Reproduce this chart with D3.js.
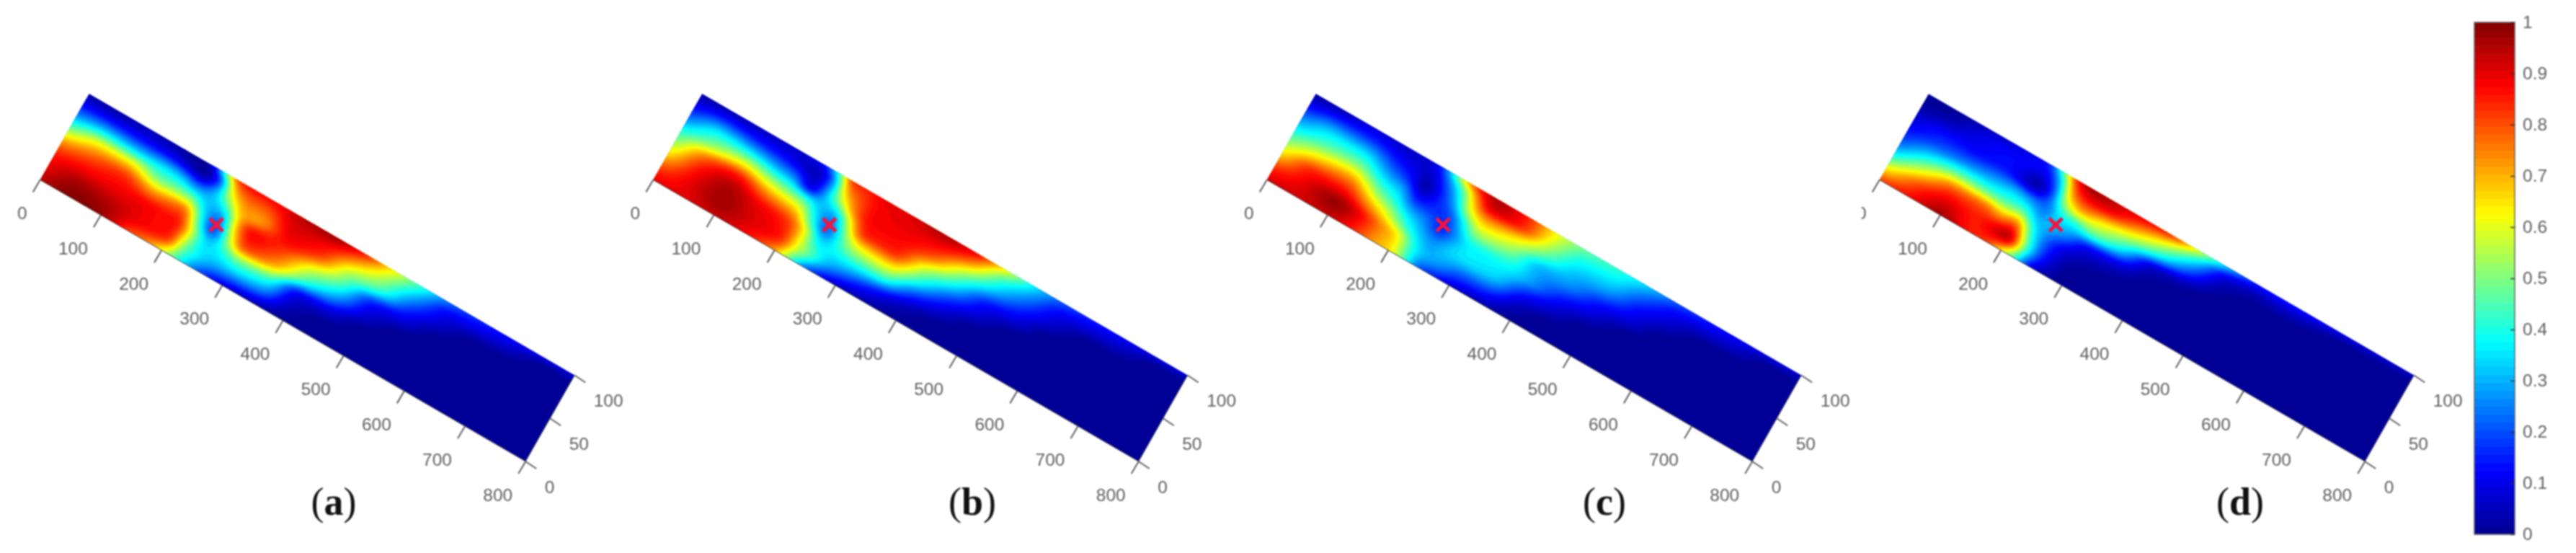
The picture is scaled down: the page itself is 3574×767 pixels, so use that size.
<!DOCTYPE html>
<html><head><meta charset="utf-8">
<script src="https://cdn.jsdelivr.net/npm/d3@7"></script>
<style>html,body{margin:0;background:#fff}svg{display:block;filter:blur(1px)}</style>
</head><body><svg id="c" width="3574" height="767"></svg>
<script>
const xKnots=[0,50,100,150,175,200,225,250,275,300,350,400,450,500,550,600,650,700,750,800];
const yKnots=[0,15,30,45,60,75,90,100];
const xTicks=[0,100,200,300,400,500,600,700,800];
const yTicks=[0,50,100];
const barTicks=[0,.1,.2,.3,.4,.5,.6,.7,.8,.9,1];
const panelNames=["(a)","(b)","(c)","(d)"];
const sensor=[250,50];
const fieldA=[
[.95,.9,.85,.72,.48,.26,.1,.02],
[1,.97,.89,.8,.64,.34,.1,.02],
[.98,.95,.89,.84,.65,.32,.1,.04],
[.8,.89,.89,.75,.5,.33,.08,.02],
[.75,.87,.87,.78,.52,.3,.04,0],
[.6,.85,.87,.8,.52,.22,0,.02],
[.42,.5,.58,.44,.32,.3,.2,.45],
[.25,.36,.32,.16,.26,.5,.72,.85],
[.14,.3,.4,.55,.68,.72,.8,.88],
[.08,.3,.5,.82,.88,.72,.8,.88],
[.03,.25,.45,.72,.82,.89,.92,.94],
[0,.04,.1,.42,.6,.82,.9,.98],
[0,0,.07,.25,.42,.55,.75,.88],
[0,0,0,.07,.14,.42,.55,.65],
[0,0,0,0,.08,.18,.32,.42],
[0,0,0,0,0,.06,.12,.22],
[0,0,0,0,0,0,.09,.16],
[0,0,0,0,0,0,.06,.13],
[0,0,0,0,0,0,0,.1],
[0,0,0,0,0,0,0,.08]];
const fieldB=[
[.9,.8,.65,.5,.37,.2,.08,.02],
[.9,.9,.87,.78,.52,.36,.14,.03],
[.93,.97,.96,.88,.62,.34,.12,.05],
[.88,.91,.89,.75,.52,.27,.1,.06],
[.82,.89,.87,.72,.48,.24,.07,.08],
[.72,.85,.82,.68,.44,.06,.04,.12],
[.45,.6,.62,.42,.32,.3,.25,.4],
[.22,.44,.34,.2,.28,.55,.75,.85],
[.12,.3,.38,.45,.6,.78,.82,.85],
[.05,.25,.42,.62,.85,.88,.88,.9],
[.02,.14,.42,.65,.85,.88,.9,.91],
[0,.04,.18,.4,.58,.8,.9,.96],
[0,0,.07,.18,.36,.54,.78,.9],
[0,0,0,.07,.14,.32,.47,.64],
[0,0,0,0,.08,.17,.28,.36],
[0,0,0,0,0,.06,.12,.2],
[0,0,0,0,0,0,.08,.15],
[0,0,0,0,0,0,.06,.12],
[0,0,0,0,0,0,0,.1],
[0,0,0,0,0,0,0,.08]];
const fieldC=[
[.92,.82,.65,.5,.36,.22,.08,.02],
[.92,.9,.85,.66,.46,.33,.14,.04],
[.93,.98,.87,.72,.5,.33,.15,.08],
[.82,.85,.7,.5,.34,.2,.1,.06],
[.72,.74,.6,.42,.3,.15,.08,.06],
[.66,.66,.45,.3,.13,.02,.07,.1],
[.45,.42,.33,.25,.16,.14,.22,.35],
[.2,.3,.26,.15,.18,.3,.45,.7],
[.14,.28,.33,.28,.37,.6,.76,.88],
[.08,.22,.35,.38,.55,.72,.93,.96],
[.03,.18,.33,.38,.5,.65,.85,.85],
[0,.04,.14,.28,.3,.46,.58,.62],
[0,0,.06,.14,.26,.32,.4,.47],
[0,0,0,.07,.14,.28,.37,.42],
[0,0,0,0,.08,.14,.24,.33],
[0,0,0,0,0,.06,.12,.2],
[0,0,0,0,0,0,.08,.15],
[0,0,0,0,0,0,.06,.12],
[0,0,0,0,0,0,0,.1],
[0,0,0,0,0,0,0,.08]];
const fieldD=[
[.82,.6,.36,.2,.12,.06,.01,0],
[.88,.8,.6,.38,.2,.12,.03,.01],
[.97,.9,.78,.48,.24,.12,.1,.05],
[.85,.85,.78,.46,.28,.14,.12,.08],
[.82,.9,.72,.46,.3,.08,.12,.1],
[.62,.96,.8,.48,.26,.02,.1,.15],
[.38,.52,.42,.3,.22,.2,.3,.5],
[.08,.2,.22,.3,.38,.6,.8,.9],
[.02,.06,.1,.24,.4,.72,.9,.98],
[0,0,.04,.12,.46,.66,.9,.95],
[0,0,.01,.08,.33,.55,.78,.9],
[0,0,0,.01,.05,.38,.63,.85],
[0,0,0,0,.02,.18,.38,.58],
[0,0,0,0,0,.02,.09,.3],
[0,0,0,0,0,0,.04,.15],
[0,0,0,0,0,0,.05,.15],
[0,0,0,0,0,0,.02,.13],
[0,0,0,0,0,0,0,.1],
[0,0,0,0,0,0,0,.08],
[0,0,0,0,0,0,0,.06]];
const fields=[fieldA,fieldB,fieldC,fieldD];

const jet=d3.scaleLinear().domain([0,.125,.375,.625,.875,1])
  .range(["#000090","#0000ff","#00ffff","#ffff00","#ff0000","#800000"]).clamp(true);
const xToH=d3.scaleLinear().domain([0,800]).range([0,673.5]);
const xToV=d3.scaleLinear().domain([0,800]).range([0,390.5]);
const yToH=d3.scaleLinear().domain([0,100]).range([0,68]);
const yToV=d3.scaleLinear().domain([0,100]).range([0,-119.5]);
const origins=[[55.7,249.5],[906.2,249.5],[1757.7,249.5],[2607.7,249.5]];
const labelX=[463,1349,2226,3108];
function pchip(xs,ys){
  const n=xs.length,h=[],d=[],m=new Array(n);
  for(let i=0;i<n-1;i++){h[i]=xs[i+1]-xs[i];d[i]=(ys[i+1]-ys[i])/h[i];}
  m[0]=d[0];m[n-1]=d[n-2];
  for(let i=1;i<n-1;i++){
    if(d[i-1]*d[i]<=0)m[i]=0;
    else{const a=2*h[i]+h[i-1],b=h[i]+2*h[i-1];m[i]=(a+b)/(a/d[i-1]+b/d[i]);}
  }
  return t=>{
    let i=Math.min(n-2,Math.max(0,d3.bisectRight(xs,t)-1));
    const u=(t-xs[i])/h[i],u2=u*u,u3=u2*u;
    return (2*u3-3*u2+1)*ys[i]+(u3-2*u2+u)*h[i]*m[i]+(-2*u3+3*u2)*ys[i+1]+(u3-u2)*h[i]*m[i+1];
  };
}
const NX=401,NY=101;
function resample(field){
  const cols=field.map(c=>pchip(yKnots,c));
  const out=new Float64Array(NX*NY);
  for(let j=0;j<NY;j++){
    const yv=j*100/(NY-1),f=pchip(xKnots,cols.map(c=>c(yv)));
    for(let i=0;i<NX;i++)out[j*NX+i]=Math.max(0,Math.min(1,f(i*800/(NX-1))));
  }
  d3.blur2({data:out,width:NX,height:NY},3,1.5);
  return out;
}
const levels=d3.range(1,64).map(i=>i/64);
const contours=d3.contours().size([NX,NY]).thresholds(levels).smooth(true);
const svg=d3.select("#c");
const defs=svg.append("defs");
const grey="#5f5f5f";
fields.forEach((field,p)=>{
  const [ox,oy]=origins[p];
  const P=(x,y)=>[ox+xToH(x)+yToH(y),oy+xToV(x)+yToV(y)];
  const g=svg.append("g");
  const corners=[[0,0],[800,0],[800,100],[0,100]].map(c=>P(c[0],c[1]));
  defs.append("clipPath").attr("id","clip"+p).append("polygon").attr("points",corners.join(" "));
  const proj=d3.geoTransform({point(cx,cy){
    const q=P(Math.max(0,Math.min(800,(cx-.5)*800/(NX-1))),Math.max(0,Math.min(100,(cy-.5)*100/(NY-1))));
    this.stream.point(q[0],q[1]);
  }});
  const path=d3.geoPath(proj);
  const heat=g.append("g").attr("clip-path",`url(#clip${p})`);
  heat.append("polygon").attr("points",corners.join(" ")).attr("fill",jet(.5/64));
  heat.selectAll("path").data(contours(Array.from(resample(field)))).join("path")
    .attr("d",path).attr("fill",d=>jet(d.value+.5/64));
  const e0=P(0,0),e1=P(800,0),e2=P(800,100);
  g.append("path").attr("d",`M${e0}L${e1}L${e2}`).attr("fill","none").attr("stroke","#444").attr("stroke-width",1);
  xTicks.forEach(t=>{
    const a=P(t,0);
    g.append("line").attr("x1",a[0]).attr("y1",a[1]).attr("x2",a[0]-10).attr("y2",a[1]+17)
      .attr("stroke",grey).attr("stroke-width",2);
    const txt=g.append("text").attr("x",a[0]-18).attr("y",a[1]+54.5).attr("text-anchor","end")
      .attr("font-family","Liberation Sans").attr("font-size",24.5).attr("fill",grey).text(t);
    if(p===3&&t===0){
      defs.append("clipPath").attr("id","cut").append("rect").attr("x",a[0]-25).attr("y",a[1]).attr("width",40).attr("height",80);
      txt.attr("clip-path","url(#cut)");
    }
  });
  yTicks.forEach(t=>{
    const a=P(800,t);
    g.append("line").attr("x1",a[0]).attr("y1",a[1]).attr("x2",a[0]+15).attr("y2",a[1]+10)
      .attr("stroke",grey).attr("stroke-width",2);
    g.append("text").attr("x",a[0]+26.5).attr("y",a[1]+43.5).attr("text-anchor","start")
      .attr("font-family","Liberation Sans").attr("font-size",24.5).attr("fill",grey).text(t);
  });
  const c=P(sensor[0],sensor[1]);
  g.append("path").attr("d",`M${c[0]-9},${c[1]-9}L${c[0]+9},${c[1]+9}M${c[0]+9},${c[1]-9}L${c[0]-9},${c[1]+9}`)
    .attr("stroke","#f5143c").attr("stroke-width",5).attr("fill","none");
  const lab=svg.append("text").attr("x",labelX[p]).attr("y",714).attr("text-anchor","middle")
    .attr("font-family","Liberation Serif").attr("font-size",54).attr("fill","#111");
  lab.append("tspan").text("(");
  lab.append("tspan").attr("font-weight","bold").text(panelNames[p][1]);
  lab.append("tspan").text(")");
});
const barY=d3.scaleLinear().domain([0,1]).range([741,31]);
const bar=svg.append("g");
bar.selectAll("rect").data(d3.range(64)).join("rect")
  .attr("x",3433).attr("width",56)
  .attr("y",i=>barY((i+1)/64)).attr("height",i=>barY(i/64)-barY((i+1)/64)+.5)
  .attr("fill",i=>jet((i+.5)/64));
bar.append("rect").attr("x",3433).attr("y",barY(1)).attr("width",56).attr("height",barY(0)-barY(1))
  .attr("fill","none").attr("stroke","#666").attr("stroke-width",1.5);
const axis=bar.append("g").attr("transform","translate(3489,0)")
  .call(d3.axisRight(barY).tickValues(barTicks).tickSize(0).tickPadding(11).tickFormat(d3.format("~g")));
axis.select(".domain").remove();
axis.selectAll("text").attr("font-family","Liberation Sans").attr("font-size",24.5).attr("fill",grey);
axis.selectAll("line").attr("x1",-6).attr("x2",0).attr("stroke","#333").attr("stroke-width",1.5);
</script></body></html>
